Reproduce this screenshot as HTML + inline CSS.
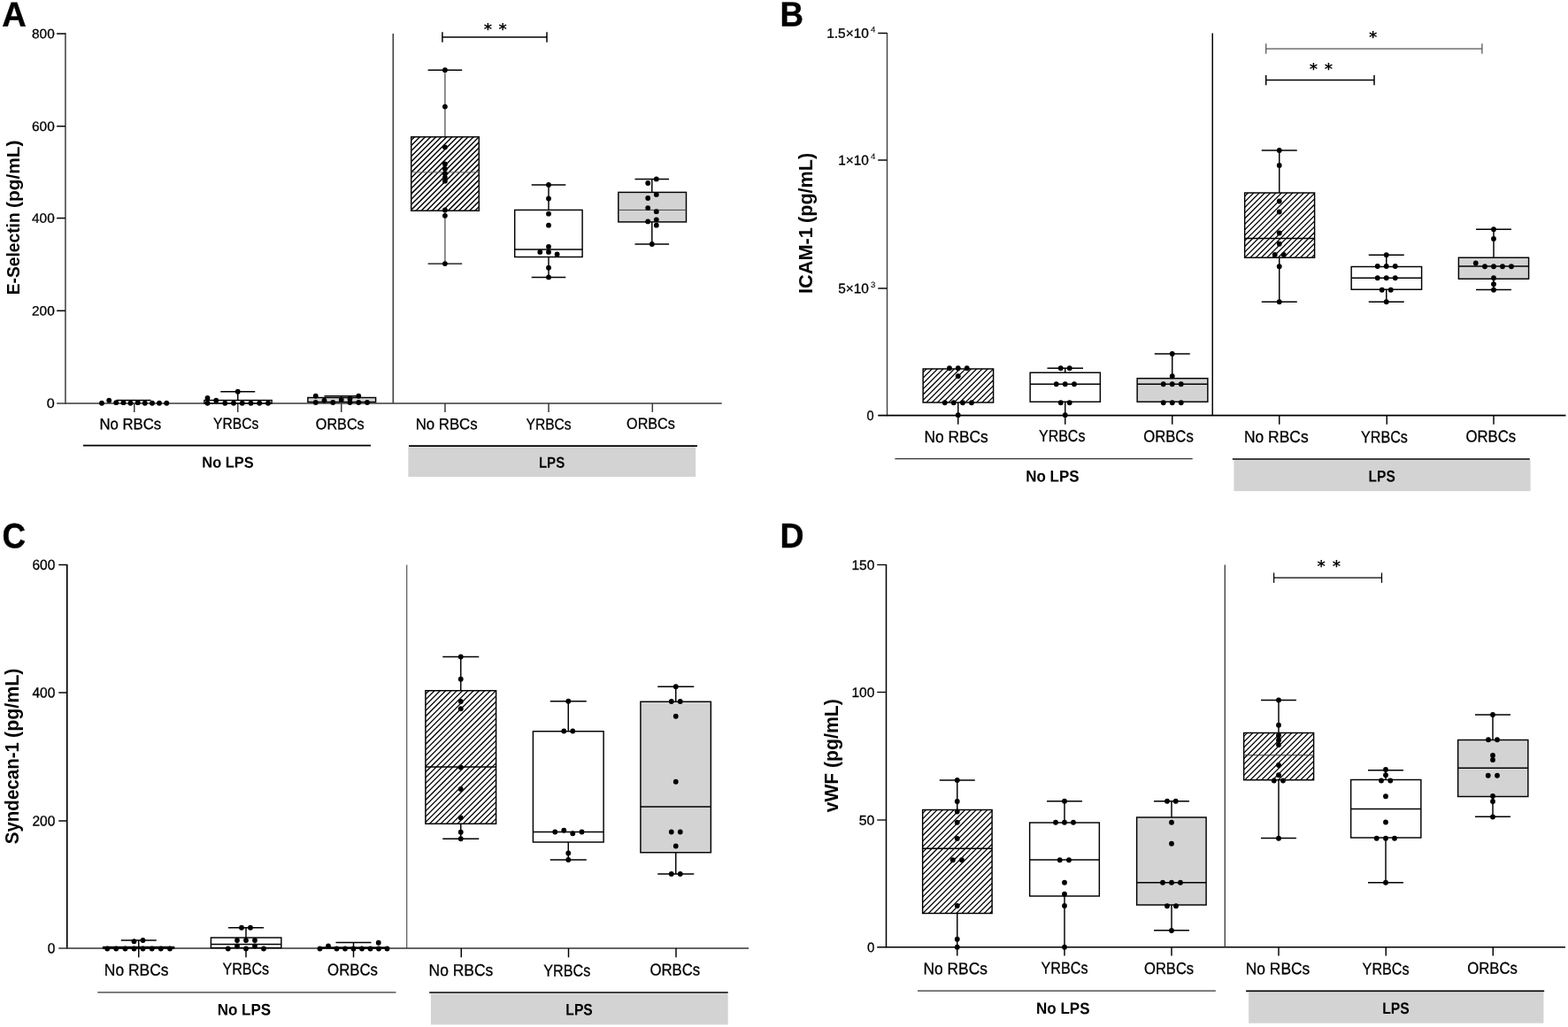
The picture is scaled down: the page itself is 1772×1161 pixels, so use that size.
<!DOCTYPE html>
<html lang="en">
<head>
<meta charset="utf-8">
<title>Endothelial activation markers: E-Selectin, ICAM-1, Syndecan-1, vWF</title>
<style>
html,body{margin:0;padding:0;background:#fff;}
body{width:1772px;height:1161px;overflow:hidden;}
svg{display:block;}
svg text{font-family:"Liberation Sans", sans-serif;fill:#000;}
svg text.r{stroke:#000;stroke-width:0.3px;}
</style>
</head>
<body>
<svg width="1772" height="1161" viewBox="0 0 1772 1161">
<rect width="1772" height="1161" fill="#fff"/>
<text x="2.20" y="29.80" font-size="39.4" font-weight="bold" textLength="27.50" lengthAdjust="spacingAndGlyphs" transform="rotate(0.04 2.20 29.80)" stroke="#000" stroke-width="0.4">A</text>
<text transform="translate(21.90 332.30) rotate(-90)" font-size="20.4" font-weight="bold"><tspan x="-1.00" y="0" textLength="93.00" lengthAdjust="spacingAndGlyphs">E-Selectin</tspan> <tspan x="97.40" y="0" textLength="76.40" lengthAdjust="spacingAndGlyphs">(pg/mL)</tspan></text>
<line x1="73.95" y1="37.30" x2="73.95" y2="456.70" stroke="#3a3a3a" stroke-width="1.5"/>
<line x1="64.10" y1="456.00" x2="815.70" y2="456.00" stroke="#3a3a3a" stroke-width="1.5"/>
<line x1="64.10" y1="38.10" x2="73.95" y2="38.10" stroke="#000" stroke-width="1.5"/>
<text x="36.00" y="43.30" font-size="15.0" class="r" textLength="25.70" lengthAdjust="spacingAndGlyphs" transform="rotate(0.04 36.00 43.30)">800</text>
<line x1="64.10" y1="142.70" x2="73.95" y2="142.70" stroke="#000" stroke-width="1.5"/>
<text x="36.00" y="147.90" font-size="15.0" class="r" textLength="25.70" lengthAdjust="spacingAndGlyphs" transform="rotate(0.04 36.00 147.90)">600</text>
<line x1="64.10" y1="246.60" x2="73.95" y2="246.60" stroke="#000" stroke-width="1.5"/>
<text x="36.00" y="251.80" font-size="15.0" class="r" textLength="25.70" lengthAdjust="spacingAndGlyphs" transform="rotate(0.04 36.00 251.80)">400</text>
<line x1="64.10" y1="351.30" x2="73.95" y2="351.30" stroke="#000" stroke-width="1.5"/>
<text x="36.00" y="356.50" font-size="15.0" class="r" textLength="25.70" lengthAdjust="spacingAndGlyphs" transform="rotate(0.04 36.00 356.50)">200</text>
<text x="52.70" y="461.10" font-size="15.0" class="r" textLength="9.00" lengthAdjust="spacingAndGlyphs" transform="rotate(0.04 52.70 461.10)">0</text>
<line x1="444.27" y1="38.00" x2="444.27" y2="456.00" stroke="#3a3a3a" stroke-width="1.5"/>
<line x1="151.75" y1="456.00" x2="151.75" y2="465.90" stroke="#3a3a3a" stroke-width="1.5"/>
<line x1="268.75" y1="456.00" x2="268.75" y2="465.90" stroke="#3a3a3a" stroke-width="1.5"/>
<line x1="385.75" y1="456.00" x2="385.75" y2="465.90" stroke="#3a3a3a" stroke-width="1.5"/>
<line x1="502.95" y1="456.00" x2="502.95" y2="465.90" stroke="#3a3a3a" stroke-width="1.5"/>
<line x1="620.00" y1="456.00" x2="620.00" y2="465.90" stroke="#3a3a3a" stroke-width="1.5"/>
<line x1="737.30" y1="456.00" x2="737.30" y2="465.90" stroke="#3a3a3a" stroke-width="1.5"/>
<text x="112.40" y="485.30" font-size="17.7" class="r" textLength="69.80" lengthAdjust="spacingAndGlyphs" transform="rotate(0.04 112.40 485.30)">No RBCs</text>
<text x="241.10" y="484.80" font-size="17.7" class="r" textLength="51.10" lengthAdjust="spacingAndGlyphs" transform="rotate(0.04 241.10 484.80)">YRBCs</text>
<text x="356.80" y="485.30" font-size="17.7" class="r" textLength="54.90" lengthAdjust="spacingAndGlyphs" transform="rotate(0.04 356.80 485.30)">ORBCs</text>
<text x="469.70" y="485.30" font-size="17.7" class="r" textLength="69.90" lengthAdjust="spacingAndGlyphs" transform="rotate(0.04 469.70 485.30)">No RBCs</text>
<text x="594.50" y="485.50" font-size="17.7" class="r" textLength="51.10" lengthAdjust="spacingAndGlyphs" transform="rotate(0.04 594.50 485.50)">YRBCs</text>
<text x="708.10" y="484.80" font-size="17.7" class="r" textLength="54.70" lengthAdjust="spacingAndGlyphs" transform="rotate(0.04 708.10 484.80)">ORBCs</text>
<line x1="94.00" y1="503.60" x2="419.00" y2="503.60" stroke="#000" stroke-width="1.6"/>
<text x="228.30" y="528.60" font-size="17.4" font-weight="bold" textLength="58.40" lengthAdjust="spacingAndGlyphs" transform="rotate(0.04 228.30 528.60)">No LPS</text>
<rect x="461.40" y="505.20" width="324.80" height="33.80" fill="#d3d3d3"/>
<line x1="462.00" y1="504.10" x2="788.00" y2="504.10" stroke="#000" stroke-width="1.6"/>
<text x="608.90" y="528.70" font-size="17.4" font-weight="bold" textLength="29.30" lengthAdjust="spacingAndGlyphs" transform="rotate(0.04 608.90 528.70)">LPS</text>
<line x1="131.50" y1="452.50" x2="170.60" y2="452.50" stroke="#000" stroke-width="1.6"/>
<line x1="268.75" y1="442.75" x2="268.75" y2="452.50" stroke="#000" stroke-width="1.45"/>
<line x1="249.25" y1="442.75" x2="288.25" y2="442.75" stroke="#000" stroke-width="1.45"/>
<rect x="230.90" y="452.50" width="76.20" height="3.40" fill="#fff"/>
<rect x="230.90" y="452.50" width="76.20" height="3.40" fill="none" stroke="#000" stroke-width="1.45"/>
<line x1="385.75" y1="447.75" x2="385.75" y2="449.50" stroke="#000" stroke-width="1.45"/>
<line x1="366.50" y1="447.75" x2="405.00" y2="447.75" stroke="#000" stroke-width="1.45"/>
<rect x="347.90" y="449.50" width="76.70" height="5.00" fill="#d3d3d3"/>
<rect x="347.90" y="449.50" width="76.70" height="5.00" fill="none" stroke="#000" stroke-width="1.45"/>
<circle cx="115.00" cy="455.75" r="2.9"/>
<circle cx="123.25" cy="452.75" r="2.9"/>
<circle cx="131.25" cy="455.20" r="2.9"/>
<circle cx="139.50" cy="455.20" r="2.9"/>
<circle cx="147.50" cy="455.75" r="2.9"/>
<circle cx="155.75" cy="455.20" r="2.9"/>
<circle cx="163.75" cy="455.75" r="2.9"/>
<circle cx="172.00" cy="455.75" r="2.9"/>
<circle cx="180.00" cy="455.75" r="2.9"/>
<circle cx="188.25" cy="455.75" r="2.9"/>
<circle cx="234.50" cy="455.75" r="2.9"/>
<circle cx="244.25" cy="452.75" r="2.9"/>
<circle cx="254.25" cy="455.75" r="2.9"/>
<circle cx="264.00" cy="455.75" r="2.9"/>
<circle cx="273.75" cy="455.75" r="2.9"/>
<circle cx="283.50" cy="455.75" r="2.9"/>
<circle cx="293.25" cy="455.75" r="2.9"/>
<circle cx="303.00" cy="455.75" r="2.9"/>
<circle cx="234.50" cy="450.00" r="2.9"/>
<circle cx="268.75" cy="442.75" r="2.9"/>
<circle cx="356.75" cy="455.00" r="2.9"/>
<circle cx="366.50" cy="452.75" r="2.9"/>
<circle cx="376.25" cy="455.00" r="2.9"/>
<circle cx="385.75" cy="452.00" r="2.9"/>
<circle cx="395.50" cy="455.00" r="2.9"/>
<circle cx="405.25" cy="455.00" r="2.9"/>
<circle cx="415.00" cy="455.00" r="2.9"/>
<circle cx="356.75" cy="447.75" r="2.9"/>
<circle cx="405.25" cy="447.75" r="2.9"/>
<circle cx="395.50" cy="450.75" r="2.9"/>
<line x1="502.90" y1="79.20" x2="502.90" y2="154.80" stroke="#666" stroke-width="1.45"/>
<line x1="483.60" y1="79.20" x2="522.20" y2="79.20" stroke="#000" stroke-width="1.45"/>
<line x1="502.90" y1="238.20" x2="502.90" y2="298.10" stroke="#666" stroke-width="1.45"/>
<line x1="483.60" y1="298.10" x2="522.20" y2="298.10" stroke="#000" stroke-width="1.45"/>
<rect x="464.70" y="154.80" width="76.60" height="83.40" fill="#fff"/>
<clipPath id="hc1"><rect x="464.70" y="154.80" width="76.60" height="83.40"/></clipPath>
<path d="M377.93 239.20L463.33 153.80M384.00 239.20L469.40 153.80M390.07 239.20L475.47 153.80M396.14 239.20L481.54 153.80M402.21 239.20L487.61 153.80M408.28 239.20L493.68 153.80M414.35 239.20L499.75 153.80M420.42 239.20L505.82 153.80M426.49 239.20L511.89 153.80M432.56 239.20L517.96 153.80M438.63 239.20L524.03 153.80M444.70 239.20L530.10 153.80M450.77 239.20L536.17 153.80M456.84 239.20L542.24 153.80M462.91 239.20L548.31 153.80M468.98 239.20L554.38 153.80M475.05 239.20L560.45 153.80M481.12 239.20L566.52 153.80M487.19 239.20L572.59 153.80M493.26 239.20L578.66 153.80M499.33 239.20L584.73 153.80M505.40 239.20L590.80 153.80M511.47 239.20L596.87 153.80M517.54 239.20L602.94 153.80M523.61 239.20L609.01 153.80M529.68 239.20L615.08 153.80M535.75 239.20L621.15 153.80M541.82 239.20L627.22 153.80" stroke="#000" stroke-width="1.45" fill="none" clip-path="url(#hc1)"/>
<rect x="464.70" y="154.80" width="76.60" height="83.40" fill="none" stroke="#000" stroke-width="1.45"/>
<line x1="464.70" y1="194.80" x2="541.30" y2="194.80" stroke="#666" stroke-width="1.0"/>
<line x1="620.00" y1="209.00" x2="620.00" y2="237.40" stroke="#000" stroke-width="1.45"/>
<line x1="600.70" y1="209.00" x2="639.30" y2="209.00" stroke="#000" stroke-width="1.45"/>
<line x1="620.00" y1="290.50" x2="620.00" y2="313.40" stroke="#000" stroke-width="1.45"/>
<line x1="600.70" y1="313.40" x2="639.30" y2="313.40" stroke="#000" stroke-width="1.45"/>
<rect x="581.70" y="237.40" width="76.40" height="53.10" fill="#fff"/>
<rect x="581.70" y="237.40" width="76.40" height="53.10" fill="none" stroke="#000" stroke-width="1.45"/>
<line x1="581.70" y1="281.90" x2="658.10" y2="281.90" stroke="#000" stroke-width="1.45"/>
<line x1="736.80" y1="202.40" x2="736.80" y2="217.40" stroke="#000" stroke-width="1.45"/>
<line x1="717.50" y1="202.40" x2="756.10" y2="202.40" stroke="#000" stroke-width="1.45"/>
<line x1="736.80" y1="250.90" x2="736.80" y2="276.00" stroke="#000" stroke-width="1.45"/>
<line x1="717.50" y1="276.00" x2="756.10" y2="276.00" stroke="#000" stroke-width="1.45"/>
<rect x="698.80" y="217.40" width="76.70" height="33.50" fill="#d3d3d3"/>
<rect x="698.80" y="217.40" width="76.70" height="33.50" fill="none" stroke="#000" stroke-width="1.45"/>
<line x1="698.80" y1="237.40" x2="775.50" y2="237.40" stroke="#444" stroke-width="1.0"/>
<circle cx="502.90" cy="79.20" r="2.9"/>
<circle cx="502.90" cy="120.60" r="2.9"/>
<circle cx="502.90" cy="166.30" r="2.9"/>
<circle cx="502.90" cy="185.40" r="2.9"/>
<circle cx="502.90" cy="191.00" r="2.9"/>
<circle cx="502.90" cy="196.30" r="2.9"/>
<circle cx="502.90" cy="200.60" r="2.9"/>
<circle cx="502.90" cy="204.70" r="2.9"/>
<circle cx="502.90" cy="237.40" r="2.9"/>
<circle cx="502.90" cy="243.80" r="2.9"/>
<circle cx="502.90" cy="298.10" r="2.9"/>
<circle cx="620.00" cy="209.00" r="2.9"/>
<circle cx="620.00" cy="224.50" r="2.9"/>
<circle cx="620.00" cy="241.70" r="2.9"/>
<circle cx="620.00" cy="254.70" r="2.9"/>
<circle cx="620.00" cy="278.80" r="2.9"/>
<circle cx="610.30" cy="284.90" r="2.9"/>
<circle cx="620.00" cy="284.90" r="2.9"/>
<circle cx="629.60" cy="287.50" r="2.9"/>
<circle cx="620.00" cy="302.70" r="2.9"/>
<circle cx="620.00" cy="313.40" r="2.9"/>
<circle cx="741.80" cy="202.40" r="2.9"/>
<circle cx="732.20" cy="207.00" r="2.9"/>
<circle cx="741.80" cy="219.90" r="2.9"/>
<circle cx="732.20" cy="224.00" r="2.9"/>
<circle cx="732.20" cy="235.10" r="2.9"/>
<circle cx="741.80" cy="239.20" r="2.9"/>
<circle cx="741.80" cy="248.30" r="2.9"/>
<circle cx="732.20" cy="250.40" r="2.9"/>
<circle cx="741.80" cy="254.70" r="2.9"/>
<circle cx="736.80" cy="276.00" r="2.9"/>
<line x1="499.90" y1="42.00" x2="618.00" y2="42.00" stroke="#000" stroke-width="1.5"/>
<line x1="499.90" y1="36.30" x2="499.90" y2="47.70" stroke="#000" stroke-width="1.5"/>
<line x1="618.00" y1="36.30" x2="618.00" y2="47.70" stroke="#000" stroke-width="1.5"/>
<text x="551.50" y="39.20" font-size="17.8" text-anchor="middle" style="font-family:'DejaVu Sans','Liberation Sans',sans-serif" font-weight="bold">*</text>
<text x="568.10" y="39.20" font-size="17.8" text-anchor="middle" style="font-family:'DejaVu Sans','Liberation Sans',sans-serif" font-weight="bold">*</text>
<text x="881.50" y="29.50" font-size="39.4" font-weight="bold" textLength="26.50" lengthAdjust="spacingAndGlyphs" transform="rotate(0.04 881.50 29.50)" stroke="#000" stroke-width="0.4">B</text>
<text transform="translate(917.80 331.00) rotate(-90)" font-size="21.4" font-weight="bold"><tspan x="-1.00" y="0" textLength="74.80" lengthAdjust="spacingAndGlyphs">ICAM-1</tspan> <tspan x="79.00" y="0" textLength="79.20" lengthAdjust="spacingAndGlyphs">(pg/mL)</tspan></text>
<line x1="1002.50" y1="36.90" x2="1002.50" y2="470.20" stroke="#2a2a2a" stroke-width="1.15"/>
<line x1="992.25" y1="469.60" x2="1769.50" y2="469.60" stroke="#000" stroke-width="1.7"/>
<line x1="992.25" y1="37.50" x2="1002.50" y2="37.50" stroke="#000" stroke-width="1.45"/>
<line x1="992.25" y1="181.00" x2="1002.50" y2="181.00" stroke="#000" stroke-width="1.45"/>
<line x1="992.25" y1="326.00" x2="1002.50" y2="326.00" stroke="#000" stroke-width="1.45"/>
<text class="r" font-size="15.3" transform="rotate(0.04 934.80 42.70)"><tspan x="934.20" y="42.70" textLength="47.70" lengthAdjust="spacingAndGlyphs">1.5×10</tspan><tspan x="983.90" y="36.50" font-size="9.2" stroke-width="0.1" textLength="5.40" lengthAdjust="spacingAndGlyphs">4</tspan></text>
<text class="r" font-size="15.3" transform="rotate(0.04 947.80 186.20)"><tspan x="947.20" y="186.20" textLength="34.70" lengthAdjust="spacingAndGlyphs">1×10</tspan><tspan x="983.90" y="180.00" font-size="9.2" stroke-width="0.1" textLength="5.40" lengthAdjust="spacingAndGlyphs">4</tspan></text>
<text class="r" font-size="15.3" transform="rotate(0.04 947.80 331.20)"><tspan x="947.20" y="331.20" textLength="34.70" lengthAdjust="spacingAndGlyphs">5×10</tspan><tspan x="983.90" y="325.00" font-size="9.2" stroke-width="0.1" textLength="5.40" lengthAdjust="spacingAndGlyphs">3</tspan></text>
<text x="979.45" y="474.90" font-size="15.3" class="r" textLength="8.10" lengthAdjust="spacingAndGlyphs" transform="rotate(0.04 979.45 474.90)">0</text>
<line x1="1370.25" y1="37.50" x2="1370.25" y2="469.60" stroke="#000" stroke-width="1.45"/>
<line x1="1082.75" y1="469.60" x2="1082.75" y2="479.80" stroke="#000" stroke-width="1.45"/>
<line x1="1203.75" y1="469.60" x2="1203.75" y2="479.80" stroke="#000" stroke-width="1.45"/>
<line x1="1324.75" y1="469.60" x2="1324.75" y2="479.80" stroke="#000" stroke-width="1.45"/>
<line x1="1445.75" y1="469.60" x2="1445.75" y2="479.80" stroke="#000" stroke-width="1.45"/>
<line x1="1567.25" y1="469.60" x2="1567.25" y2="479.80" stroke="#000" stroke-width="1.45"/>
<line x1="1688.00" y1="469.60" x2="1688.00" y2="479.80" stroke="#000" stroke-width="1.45"/>
<text x="1044.40" y="500.00" font-size="18.6" class="r" textLength="72.30" lengthAdjust="spacingAndGlyphs" transform="rotate(0.04 1044.40 500.00)">No RBCs</text>
<text x="1174.00" y="499.00" font-size="18.6" class="r" textLength="52.40" lengthAdjust="spacingAndGlyphs" transform="rotate(0.04 1174.00 499.00)">YRBCs</text>
<text x="1292.20" y="499.40" font-size="18.6" class="r" textLength="56.60" lengthAdjust="spacingAndGlyphs" transform="rotate(0.04 1292.20 499.40)">ORBCs</text>
<text x="1406.00" y="500.00" font-size="18.6" class="r" textLength="72.60" lengthAdjust="spacingAndGlyphs" transform="rotate(0.04 1406.00 500.00)">No RBCs</text>
<text x="1538.00" y="500.20" font-size="18.6" class="r" textLength="52.90" lengthAdjust="spacingAndGlyphs" transform="rotate(0.04 1538.00 500.20)">YRBCs</text>
<text x="1656.40" y="499.40" font-size="18.6" class="r" textLength="56.70" lengthAdjust="spacingAndGlyphs" transform="rotate(0.04 1656.40 499.40)">ORBCs</text>
<line x1="1011.40" y1="518.60" x2="1347.70" y2="518.60" stroke="#333" stroke-width="1.25"/>
<text x="1159.30" y="544.50" font-size="18.1" font-weight="bold" textLength="60.25" lengthAdjust="spacingAndGlyphs" transform="rotate(0.04 1159.30 544.50)">No LPS</text>
<rect x="1394.40" y="520.20" width="335.20" height="35.00" fill="#d3d3d3"/>
<line x1="1392.80" y1="519.00" x2="1728.80" y2="519.00" stroke="#000" stroke-width="1.6"/>
<text x="1546.60" y="544.50" font-size="18.1" font-weight="bold" textLength="30.20" lengthAdjust="spacingAndGlyphs" transform="rotate(0.04 1546.60 544.50)">LPS</text>
<line x1="1082.75" y1="455.00" x2="1082.75" y2="469.50" stroke="#000" stroke-width="1.45"/>
<rect x="1043.15" y="417.00" width="79.45" height="38.00" fill="#fff"/>
<clipPath id="hc2"><rect x="1043.15" y="417.00" width="79.45" height="38.00"/></clipPath>
<path d="M1001.75 456.00L1041.75 416.00M1008.05 456.00L1048.05 416.00M1014.35 456.00L1054.35 416.00M1020.65 456.00L1060.65 416.00M1026.95 456.00L1066.95 416.00M1033.25 456.00L1073.25 416.00M1039.55 456.00L1079.55 416.00M1045.85 456.00L1085.85 416.00M1052.15 456.00L1092.15 416.00M1058.45 456.00L1098.45 416.00M1064.75 456.00L1104.75 416.00M1071.05 456.00L1111.05 416.00M1077.35 456.00L1117.35 416.00M1083.65 456.00L1123.65 416.00M1089.95 456.00L1129.95 416.00M1096.25 456.00L1136.25 416.00M1102.55 456.00L1142.55 416.00M1108.85 456.00L1148.85 416.00M1115.15 456.00L1155.15 416.00M1121.45 456.00L1161.45 416.00M1127.75 456.00L1167.75 416.00" stroke="#000" stroke-width="1.25" fill="none" clip-path="url(#hc2)"/>
<rect x="1043.15" y="417.00" width="79.45" height="38.00" fill="none" stroke="#000" stroke-width="1.45"/>
<line x1="1203.75" y1="416.25" x2="1203.75" y2="421.25" stroke="#000" stroke-width="1.45"/>
<line x1="1183.50" y1="416.25" x2="1224.00" y2="416.25" stroke="#000" stroke-width="1.45"/>
<line x1="1203.75" y1="454.25" x2="1203.75" y2="469.50" stroke="#000" stroke-width="1.45"/>
<rect x="1164.15" y="421.25" width="79.20" height="33.00" fill="#fff"/>
<rect x="1164.15" y="421.25" width="79.20" height="33.00" fill="none" stroke="#000" stroke-width="1.45"/>
<line x1="1164.15" y1="434.25" x2="1243.35" y2="434.25" stroke="#000" stroke-width="1.45"/>
<line x1="1324.75" y1="400.00" x2="1324.75" y2="427.75" stroke="#000" stroke-width="1.45"/>
<line x1="1304.75" y1="400.00" x2="1344.75" y2="400.00" stroke="#000" stroke-width="1.45"/>
<rect x="1285.15" y="427.75" width="79.70" height="26.50" fill="#d3d3d3"/>
<rect x="1285.15" y="427.75" width="79.70" height="26.50" fill="none" stroke="#000" stroke-width="1.45"/>
<line x1="1285.15" y1="434.25" x2="1364.85" y2="434.25" stroke="#000" stroke-width="1.45"/>
<circle cx="1073.00" cy="416.25" r="2.9"/>
<circle cx="1082.75" cy="416.25" r="2.9"/>
<circle cx="1092.75" cy="416.25" r="2.9"/>
<circle cx="1082.75" cy="425.25" r="2.9"/>
<circle cx="1067.75" cy="455.25" r="2.9"/>
<circle cx="1077.75" cy="455.25" r="2.9"/>
<circle cx="1088.00" cy="455.25" r="2.9"/>
<circle cx="1098.00" cy="455.25" r="2.9"/>
<circle cx="1082.75" cy="469.25" r="2.9"/>
<circle cx="1198.75" cy="416.25" r="2.9"/>
<circle cx="1208.75" cy="416.25" r="2.9"/>
<circle cx="1193.75" cy="434.25" r="2.9"/>
<circle cx="1203.75" cy="434.25" r="2.9"/>
<circle cx="1214.00" cy="434.25" r="2.9"/>
<circle cx="1198.75" cy="455.25" r="2.9"/>
<circle cx="1208.75" cy="455.25" r="2.9"/>
<circle cx="1203.75" cy="469.25" r="2.9"/>
<circle cx="1324.75" cy="400.00" r="2.9"/>
<circle cx="1324.75" cy="425.25" r="2.9"/>
<circle cx="1314.75" cy="434.25" r="2.9"/>
<circle cx="1324.75" cy="434.25" r="2.9"/>
<circle cx="1334.75" cy="434.25" r="2.9"/>
<circle cx="1314.75" cy="455.25" r="2.9"/>
<circle cx="1324.75" cy="455.25" r="2.9"/>
<circle cx="1334.75" cy="455.25" r="2.9"/>
<line x1="1445.75" y1="170.00" x2="1445.75" y2="218.00" stroke="#000" stroke-width="1.45"/>
<line x1="1425.75" y1="170.00" x2="1465.75" y2="170.00" stroke="#000" stroke-width="1.45"/>
<line x1="1445.75" y1="291.25" x2="1445.75" y2="341.25" stroke="#000" stroke-width="1.45"/>
<line x1="1425.75" y1="341.25" x2="1465.75" y2="341.25" stroke="#000" stroke-width="1.45"/>
<rect x="1406.65" y="218.00" width="78.95" height="73.25" fill="#fff"/>
<clipPath id="hc3"><rect x="1406.65" y="218.00" width="78.95" height="73.25"/></clipPath>
<path d="M1330.00 292.25L1405.25 217.00M1336.30 292.25L1411.55 217.00M1342.60 292.25L1417.85 217.00M1348.90 292.25L1424.15 217.00M1355.20 292.25L1430.45 217.00M1361.50 292.25L1436.75 217.00M1367.80 292.25L1443.05 217.00M1374.10 292.25L1449.35 217.00M1380.40 292.25L1455.65 217.00M1386.70 292.25L1461.95 217.00M1393.00 292.25L1468.25 217.00M1399.30 292.25L1474.55 217.00M1405.60 292.25L1480.85 217.00M1411.90 292.25L1487.15 217.00M1418.20 292.25L1493.45 217.00M1424.50 292.25L1499.75 217.00M1430.80 292.25L1506.05 217.00M1437.10 292.25L1512.35 217.00M1443.40 292.25L1518.65 217.00M1449.70 292.25L1524.95 217.00M1456.00 292.25L1531.25 217.00M1462.30 292.25L1537.55 217.00M1468.60 292.25L1543.85 217.00M1474.90 292.25L1550.15 217.00M1481.20 292.25L1556.45 217.00M1487.50 292.25L1562.75 217.00" stroke="#000" stroke-width="1.25" fill="none" clip-path="url(#hc3)"/>
<rect x="1406.65" y="218.00" width="78.95" height="73.25" fill="none" stroke="#000" stroke-width="1.45"/>
<line x1="1406.65" y1="269.50" x2="1485.60" y2="269.50" stroke="#000" stroke-width="1.45"/>
<line x1="1566.75" y1="288.25" x2="1566.75" y2="301.50" stroke="#000" stroke-width="1.45"/>
<line x1="1546.75" y1="288.25" x2="1586.75" y2="288.25" stroke="#000" stroke-width="1.45"/>
<line x1="1566.75" y1="327.25" x2="1566.75" y2="341.25" stroke="#000" stroke-width="1.45"/>
<line x1="1546.75" y1="341.25" x2="1586.75" y2="341.25" stroke="#000" stroke-width="1.45"/>
<rect x="1527.15" y="301.50" width="79.45" height="25.75" fill="#fff"/>
<rect x="1527.15" y="301.50" width="79.45" height="25.75" fill="none" stroke="#000" stroke-width="1.45"/>
<line x1="1527.15" y1="314.25" x2="1606.60" y2="314.25" stroke="#000" stroke-width="1.45"/>
<line x1="1688.00" y1="259.25" x2="1688.00" y2="291.25" stroke="#000" stroke-width="1.45"/>
<line x1="1668.00" y1="259.25" x2="1708.00" y2="259.25" stroke="#000" stroke-width="1.45"/>
<line x1="1688.00" y1="315.25" x2="1688.00" y2="327.50" stroke="#000" stroke-width="1.45"/>
<line x1="1668.00" y1="327.50" x2="1708.00" y2="327.50" stroke="#000" stroke-width="1.45"/>
<rect x="1648.40" y="291.25" width="79.20" height="24.00" fill="#d3d3d3"/>
<rect x="1648.40" y="291.25" width="79.20" height="24.00" fill="none" stroke="#000" stroke-width="1.45"/>
<line x1="1648.40" y1="301.00" x2="1727.60" y2="301.00" stroke="#000" stroke-width="1.45"/>
<circle cx="1445.75" cy="170.00" r="2.9"/>
<circle cx="1445.75" cy="187.00" r="2.9"/>
<circle cx="1445.75" cy="227.50" r="2.9"/>
<circle cx="1445.75" cy="239.50" r="2.9"/>
<circle cx="1445.75" cy="263.50" r="2.9"/>
<circle cx="1445.75" cy="275.75" r="2.9"/>
<circle cx="1445.75" cy="301.25" r="2.9"/>
<circle cx="1445.75" cy="341.25" r="2.9"/>
<circle cx="1440.75" cy="288.00" r="2.9"/>
<circle cx="1450.75" cy="288.00" r="2.9"/>
<circle cx="1566.75" cy="288.25" r="2.9"/>
<circle cx="1556.75" cy="301.00" r="2.9"/>
<circle cx="1566.75" cy="301.00" r="2.9"/>
<circle cx="1576.75" cy="301.00" r="2.9"/>
<circle cx="1556.75" cy="314.25" r="2.9"/>
<circle cx="1566.75" cy="314.25" r="2.9"/>
<circle cx="1576.75" cy="314.25" r="2.9"/>
<circle cx="1561.75" cy="327.75" r="2.9"/>
<circle cx="1571.75" cy="327.75" r="2.9"/>
<circle cx="1566.75" cy="341.25" r="2.9"/>
<circle cx="1688.00" cy="259.25" r="2.9"/>
<circle cx="1688.00" cy="270.00" r="2.9"/>
<circle cx="1667.75" cy="297.50" r="2.9"/>
<circle cx="1678.00" cy="301.25" r="2.9"/>
<circle cx="1688.00" cy="301.25" r="2.9"/>
<circle cx="1698.00" cy="301.25" r="2.9"/>
<circle cx="1708.00" cy="301.25" r="2.9"/>
<circle cx="1688.00" cy="314.25" r="2.9"/>
<circle cx="1688.00" cy="321.25" r="2.9"/>
<circle cx="1688.00" cy="327.75" r="2.9"/>
<line x1="1430.70" y1="55.00" x2="1674.90" y2="55.00" stroke="#555" stroke-width="1.25"/>
<line x1="1430.70" y1="49.30" x2="1430.70" y2="60.70" stroke="#555" stroke-width="1.25"/>
<line x1="1674.90" y1="49.30" x2="1674.90" y2="60.70" stroke="#555" stroke-width="1.25"/>
<text x="1551.60" y="48.20" font-size="17.8" text-anchor="middle" style="font-family:'DejaVu Sans','Liberation Sans',sans-serif" font-weight="bold">*</text>
<line x1="1430.70" y1="90.60" x2="1553.00" y2="90.60" stroke="#000" stroke-width="1.5"/>
<line x1="1430.70" y1="84.90" x2="1430.70" y2="96.30" stroke="#000" stroke-width="1.5"/>
<line x1="1553.00" y1="84.90" x2="1553.00" y2="96.30" stroke="#000" stroke-width="1.5"/>
<text x="1484.30" y="83.80" font-size="17.8" text-anchor="middle" style="font-family:'DejaVu Sans','Liberation Sans',sans-serif" font-weight="bold">*</text>
<text x="1501.50" y="83.80" font-size="17.8" text-anchor="middle" style="font-family:'DejaVu Sans','Liberation Sans',sans-serif" font-weight="bold">*</text>
<text x="2.50" y="619.30" font-size="39.4" font-weight="bold" textLength="26.50" lengthAdjust="spacingAndGlyphs" transform="rotate(0.04 2.50 619.30)" stroke="#000" stroke-width="0.4">C</text>
<text transform="translate(21.40 953.30) rotate(-90)" font-size="21.3" font-weight="bold"><tspan x="-1.00" y="0" textLength="115.30" lengthAdjust="spacingAndGlyphs">Syndecan-1</tspan> <tspan x="119.40" y="0" textLength="78.20" lengthAdjust="spacingAndGlyphs">(pg/mL)</tspan></text>
<line x1="75.75" y1="637.90" x2="75.75" y2="1072.60" stroke="#000" stroke-width="1.7"/>
<line x1="66.25" y1="1072.00" x2="846.00" y2="1072.00" stroke="#333" stroke-width="1.4"/>
<line x1="66.25" y1="638.50" x2="75.75" y2="638.50" stroke="#000" stroke-width="1.45"/>
<text x="36.45" y="644.10" font-size="16.2" class="r" textLength="25.85" lengthAdjust="spacingAndGlyphs" transform="rotate(0.04 36.45 644.10)">600</text>
<line x1="66.25" y1="783.00" x2="75.75" y2="783.00" stroke="#000" stroke-width="1.45"/>
<text x="36.45" y="788.60" font-size="16.2" class="r" textLength="25.85" lengthAdjust="spacingAndGlyphs" transform="rotate(0.04 36.45 788.60)">400</text>
<line x1="66.25" y1="928.00" x2="75.75" y2="928.00" stroke="#000" stroke-width="1.45"/>
<text x="36.45" y="933.60" font-size="16.2" class="r" textLength="25.85" lengthAdjust="spacingAndGlyphs" transform="rotate(0.04 36.45 933.60)">200</text>
<text x="53.70" y="1077.60" font-size="16.2" class="r" textLength="8.60" lengthAdjust="spacingAndGlyphs" transform="rotate(0.04 53.70 1077.60)">0</text>
<line x1="459.75" y1="638.50" x2="459.75" y2="1072.00" stroke="#333" stroke-width="1.0"/>
<line x1="156.75" y1="1072.00" x2="156.75" y2="1082.30" stroke="#000" stroke-width="1.45"/>
<line x1="278.00" y1="1072.00" x2="278.00" y2="1082.30" stroke="#000" stroke-width="1.45"/>
<line x1="399.50" y1="1072.00" x2="399.50" y2="1082.30" stroke="#000" stroke-width="1.45"/>
<line x1="521.25" y1="1072.00" x2="521.25" y2="1082.30" stroke="#000" stroke-width="1.45"/>
<line x1="642.50" y1="1072.00" x2="642.50" y2="1082.30" stroke="#000" stroke-width="1.45"/>
<line x1="764.00" y1="1072.00" x2="764.00" y2="1082.30" stroke="#000" stroke-width="1.45"/>
<text x="117.80" y="1102.70" font-size="18.6" class="r" textLength="72.80" lengthAdjust="spacingAndGlyphs" transform="rotate(0.04 117.80 1102.70)">No RBCs</text>
<text x="251.45" y="1101.60" font-size="18.6" class="r" textLength="52.70" lengthAdjust="spacingAndGlyphs" transform="rotate(0.04 251.45 1101.60)">YRBCs</text>
<text x="370.10" y="1102.50" font-size="18.6" class="r" textLength="56.80" lengthAdjust="spacingAndGlyphs" transform="rotate(0.04 370.10 1102.50)">ORBCs</text>
<text x="484.60" y="1103.00" font-size="18.6" class="r" textLength="72.70" lengthAdjust="spacingAndGlyphs" transform="rotate(0.04 484.60 1103.00)">No RBCs</text>
<text x="614.30" y="1103.40" font-size="18.6" class="r" textLength="53.00" lengthAdjust="spacingAndGlyphs" transform="rotate(0.04 614.30 1103.40)">YRBCs</text>
<text x="734.40" y="1102.50" font-size="18.6" class="r" textLength="56.75" lengthAdjust="spacingAndGlyphs" transform="rotate(0.04 734.40 1102.50)">ORBCs</text>
<line x1="110.25" y1="1121.90" x2="447.50" y2="1121.90" stroke="#333" stroke-width="1.25"/>
<text x="245.70" y="1147.40" font-size="18.1" font-weight="bold" textLength="60.35" lengthAdjust="spacingAndGlyphs" transform="rotate(0.04 245.70 1147.40)">No LPS</text>
<rect x="486.90" y="1123.30" width="335.80" height="35.10" fill="#d3d3d3"/>
<line x1="485.20" y1="1122.05" x2="822.70" y2="1122.05" stroke="#000" stroke-width="1.6"/>
<text x="639.35" y="1147.60" font-size="18.1" font-weight="bold" textLength="30.45" lengthAdjust="spacingAndGlyphs" transform="rotate(0.04 639.35 1147.60)">LPS</text>
<line x1="156.75" y1="1063.00" x2="156.75" y2="1070.50" stroke="#000" stroke-width="1.45"/>
<line x1="136.75" y1="1063.00" x2="176.75" y2="1063.00" stroke="#000" stroke-width="1.45"/>
<rect x="116.65" y="1070.50" width="79.95" height="1.50" fill="#fff"/>
<rect x="116.65" y="1070.50" width="79.95" height="1.50" fill="none" stroke="#000" stroke-width="1.45"/>
<line x1="278.00" y1="1048.75" x2="278.00" y2="1060.00" stroke="#000" stroke-width="1.45"/>
<line x1="258.00" y1="1048.75" x2="298.00" y2="1048.75" stroke="#000" stroke-width="1.45"/>
<rect x="238.40" y="1060.00" width="79.45" height="11.50" fill="#fff"/>
<rect x="238.40" y="1060.00" width="79.45" height="11.50" fill="none" stroke="#000" stroke-width="1.45"/>
<line x1="238.40" y1="1067.50" x2="317.85" y2="1067.50" stroke="#000" stroke-width="1.45"/>
<line x1="399.50" y1="1065.50" x2="399.50" y2="1071.00" stroke="#000" stroke-width="1.45"/>
<line x1="379.50" y1="1065.50" x2="419.50" y2="1065.50" stroke="#000" stroke-width="1.45"/>
<rect x="359.90" y="1071.00" width="79.20" height="1.00" fill="#d3d3d3"/>
<rect x="359.90" y="1071.00" width="79.20" height="1.00" fill="none" stroke="#000" stroke-width="1.45"/>
<circle cx="121.25" cy="1072.50" r="2.9"/>
<circle cx="131.25" cy="1072.50" r="2.9"/>
<circle cx="141.50" cy="1072.50" r="2.9"/>
<circle cx="151.50" cy="1072.50" r="2.9"/>
<circle cx="161.50" cy="1072.50" r="2.9"/>
<circle cx="171.75" cy="1072.50" r="2.9"/>
<circle cx="181.75" cy="1072.50" r="2.9"/>
<circle cx="192.00" cy="1072.50" r="2.9"/>
<circle cx="151.50" cy="1064.25" r="2.9"/>
<circle cx="161.50" cy="1063.00" r="2.9"/>
<circle cx="273.00" cy="1048.75" r="2.9"/>
<circle cx="283.00" cy="1048.75" r="2.9"/>
<circle cx="268.00" cy="1063.00" r="2.9"/>
<circle cx="278.00" cy="1063.00" r="2.9"/>
<circle cx="288.00" cy="1063.00" r="2.9"/>
<circle cx="268.00" cy="1069.50" r="2.9"/>
<circle cx="288.00" cy="1069.50" r="2.9"/>
<circle cx="257.75" cy="1072.50" r="2.9"/>
<circle cx="278.00" cy="1072.50" r="2.9"/>
<circle cx="298.00" cy="1072.50" r="2.9"/>
<circle cx="361.50" cy="1072.50" r="2.9"/>
<circle cx="380.50" cy="1072.50" r="2.9"/>
<circle cx="390.00" cy="1072.50" r="2.9"/>
<circle cx="399.50" cy="1072.50" r="2.9"/>
<circle cx="409.00" cy="1072.50" r="2.9"/>
<circle cx="418.50" cy="1072.50" r="2.9"/>
<circle cx="428.00" cy="1072.50" r="2.9"/>
<circle cx="437.50" cy="1072.50" r="2.9"/>
<circle cx="371.00" cy="1069.50" r="2.9"/>
<circle cx="427.75" cy="1065.75" r="2.9"/>
<line x1="520.75" y1="742.50" x2="520.75" y2="780.75" stroke="#000" stroke-width="1.45"/>
<line x1="500.25" y1="742.50" x2="541.25" y2="742.50" stroke="#000" stroke-width="1.45"/>
<line x1="520.75" y1="931.25" x2="520.75" y2="948.25" stroke="#000" stroke-width="1.45"/>
<line x1="500.25" y1="948.25" x2="541.25" y2="948.25" stroke="#000" stroke-width="1.45"/>
<rect x="480.90" y="780.75" width="79.70" height="150.50" fill="#fff"/>
<clipPath id="hc4"><rect x="480.90" y="780.75" width="79.70" height="150.50"/></clipPath>
<path d="M327.00 932.25L479.50 779.75M333.30 932.25L485.80 779.75M339.60 932.25L492.10 779.75M345.90 932.25L498.40 779.75M352.20 932.25L504.70 779.75M358.50 932.25L511.00 779.75M364.80 932.25L517.30 779.75M371.10 932.25L523.60 779.75M377.40 932.25L529.90 779.75M383.70 932.25L536.20 779.75M390.00 932.25L542.50 779.75M396.30 932.25L548.80 779.75M402.60 932.25L555.10 779.75M408.90 932.25L561.40 779.75M415.20 932.25L567.70 779.75M421.50 932.25L574.00 779.75M427.80 932.25L580.30 779.75M434.10 932.25L586.60 779.75M440.40 932.25L592.90 779.75M446.70 932.25L599.20 779.75M453.00 932.25L605.50 779.75M459.30 932.25L611.80 779.75M465.60 932.25L618.10 779.75M471.90 932.25L624.40 779.75M478.20 932.25L630.70 779.75M484.50 932.25L637.00 779.75M490.80 932.25L643.30 779.75M497.10 932.25L649.60 779.75M503.40 932.25L655.90 779.75M509.70 932.25L662.20 779.75M516.00 932.25L668.50 779.75M522.30 932.25L674.80 779.75M528.60 932.25L681.10 779.75M534.90 932.25L687.40 779.75M541.20 932.25L693.70 779.75M547.50 932.25L700.00 779.75M553.80 932.25L706.30 779.75M560.10 932.25L712.60 779.75" stroke="#000" stroke-width="1.25" fill="none" clip-path="url(#hc4)"/>
<rect x="480.90" y="780.75" width="79.70" height="150.50" fill="none" stroke="#000" stroke-width="1.45"/>
<line x1="480.90" y1="867.00" x2="560.60" y2="867.00" stroke="#000" stroke-width="1.45"/>
<line x1="642.25" y1="792.75" x2="642.25" y2="826.75" stroke="#000" stroke-width="1.45"/>
<line x1="621.75" y1="792.75" x2="662.75" y2="792.75" stroke="#000" stroke-width="1.45"/>
<line x1="642.25" y1="952.00" x2="642.25" y2="972.00" stroke="#000" stroke-width="1.45"/>
<line x1="621.75" y1="972.00" x2="662.75" y2="972.00" stroke="#000" stroke-width="1.45"/>
<rect x="602.40" y="826.75" width="79.70" height="125.25" fill="#fff"/>
<rect x="602.40" y="826.75" width="79.70" height="125.25" fill="none" stroke="#000" stroke-width="1.45"/>
<line x1="602.40" y1="940.50" x2="682.10" y2="940.50" stroke="#000" stroke-width="1.45"/>
<line x1="763.75" y1="776.25" x2="763.75" y2="793.25" stroke="#000" stroke-width="1.45"/>
<line x1="743.25" y1="776.25" x2="784.25" y2="776.25" stroke="#000" stroke-width="1.45"/>
<line x1="763.75" y1="963.75" x2="763.75" y2="988.00" stroke="#000" stroke-width="1.45"/>
<line x1="743.25" y1="988.00" x2="784.25" y2="988.00" stroke="#000" stroke-width="1.45"/>
<rect x="723.90" y="793.25" width="79.45" height="170.50" fill="#d3d3d3"/>
<rect x="723.90" y="793.25" width="79.45" height="170.50" fill="none" stroke="#000" stroke-width="1.45"/>
<line x1="723.90" y1="912.00" x2="803.35" y2="912.00" stroke="#000" stroke-width="1.45"/>
<circle cx="520.75" cy="742.50" r="2.9"/>
<circle cx="520.75" cy="767.75" r="2.9"/>
<circle cx="520.75" cy="793.00" r="2.9"/>
<circle cx="520.75" cy="801.25" r="2.9"/>
<circle cx="520.75" cy="867.50" r="2.9"/>
<circle cx="520.75" cy="892.00" r="2.9"/>
<circle cx="520.75" cy="924.50" r="2.9"/>
<circle cx="520.75" cy="940.75" r="2.9"/>
<circle cx="520.75" cy="948.25" r="2.9"/>
<circle cx="642.25" cy="792.75" r="2.9"/>
<circle cx="637.25" cy="826.50" r="2.9"/>
<circle cx="647.25" cy="826.50" r="2.9"/>
<circle cx="627.25" cy="940.50" r="2.9"/>
<circle cx="637.25" cy="938.75" r="2.9"/>
<circle cx="647.25" cy="942.25" r="2.9"/>
<circle cx="657.50" cy="940.50" r="2.9"/>
<circle cx="642.25" cy="964.50" r="2.9"/>
<circle cx="642.25" cy="972.00" r="2.9"/>
<circle cx="763.75" cy="776.25" r="2.9"/>
<circle cx="758.75" cy="793.00" r="2.9"/>
<circle cx="768.75" cy="793.00" r="2.9"/>
<circle cx="763.75" cy="809.75" r="2.9"/>
<circle cx="763.75" cy="883.75" r="2.9"/>
<circle cx="758.75" cy="940.50" r="2.9"/>
<circle cx="768.75" cy="940.50" r="2.9"/>
<circle cx="763.75" cy="956.50" r="2.9"/>
<circle cx="758.75" cy="988.00" r="2.9"/>
<circle cx="768.75" cy="988.00" r="2.9"/>
<text x="881.50" y="618.90" font-size="39.4" font-weight="bold" textLength="27.00" lengthAdjust="spacingAndGlyphs" transform="rotate(0.04 881.50 618.90)" stroke="#000" stroke-width="0.4">D</text>
<text transform="translate(947.30 917.30) rotate(-90)" font-size="21.4" font-weight="bold"><tspan x="-1.00" y="0" textLength="44.50" lengthAdjust="spacingAndGlyphs">vWF</tspan> <tspan x="49.20" y="0" textLength="78.00" lengthAdjust="spacingAndGlyphs">(pg/mL)</tspan></text>
<line x1="1001.50" y1="637.90" x2="1001.50" y2="1071.35" stroke="#000" stroke-width="1.5"/>
<line x1="991.20" y1="1070.75" x2="1769.00" y2="1070.75" stroke="#000" stroke-width="1.7"/>
<line x1="991.20" y1="638.50" x2="1001.50" y2="638.50" stroke="#000" stroke-width="1.3"/>
<text x="962.45" y="644.00" font-size="15.3" class="r" textLength="25.85" lengthAdjust="spacingAndGlyphs" transform="rotate(0.04 962.45 644.00)">150</text>
<line x1="991.20" y1="782.50" x2="1001.50" y2="782.50" stroke="#000" stroke-width="1.3"/>
<text x="962.45" y="788.00" font-size="15.3" class="r" textLength="25.85" lengthAdjust="spacingAndGlyphs" transform="rotate(0.04 962.45 788.00)">100</text>
<line x1="991.20" y1="927.00" x2="1001.50" y2="927.00" stroke="#000" stroke-width="1.3"/>
<text x="970.70" y="932.50" font-size="15.3" class="r" textLength="17.60" lengthAdjust="spacingAndGlyphs" transform="rotate(0.04 970.70 932.50)">50</text>
<text x="979.95" y="1076.25" font-size="15.3" class="r" textLength="8.35" lengthAdjust="spacingAndGlyphs" transform="rotate(0.04 979.95 1076.25)">0</text>
<line x1="1384.25" y1="638.50" x2="1384.25" y2="1070.75" stroke="#222" stroke-width="1.2"/>
<line x1="1081.75" y1="1070.75" x2="1081.75" y2="1080.55" stroke="#000" stroke-width="1.45"/>
<line x1="1203.00" y1="1070.75" x2="1203.00" y2="1080.55" stroke="#000" stroke-width="1.45"/>
<line x1="1324.00" y1="1070.75" x2="1324.00" y2="1080.55" stroke="#000" stroke-width="1.45"/>
<line x1="1445.00" y1="1070.75" x2="1445.00" y2="1080.55" stroke="#000" stroke-width="1.45"/>
<line x1="1566.25" y1="1070.75" x2="1566.25" y2="1080.55" stroke="#000" stroke-width="1.45"/>
<line x1="1687.25" y1="1070.75" x2="1687.25" y2="1080.55" stroke="#000" stroke-width="1.45"/>
<text x="1043.60" y="1101.30" font-size="18.6" class="r" textLength="72.30" lengthAdjust="spacingAndGlyphs" transform="rotate(0.04 1043.60 1101.30)">No RBCs</text>
<text x="1176.60" y="1100.40" font-size="18.6" class="r" textLength="52.95" lengthAdjust="spacingAndGlyphs" transform="rotate(0.04 1176.60 1100.40)">YRBCs</text>
<text x="1293.00" y="1100.90" font-size="18.6" class="r" textLength="56.15" lengthAdjust="spacingAndGlyphs" transform="rotate(0.04 1293.00 1100.90)">ORBCs</text>
<text x="1407.80" y="1101.30" font-size="18.6" class="r" textLength="72.50" lengthAdjust="spacingAndGlyphs" transform="rotate(0.04 1407.80 1101.30)">No RBCs</text>
<text x="1539.60" y="1101.60" font-size="18.6" class="r" textLength="53.00" lengthAdjust="spacingAndGlyphs" transform="rotate(0.04 1539.60 1101.60)">YRBCs</text>
<text x="1658.25" y="1100.70" font-size="18.6" class="r" textLength="56.60" lengthAdjust="spacingAndGlyphs" transform="rotate(0.04 1658.25 1100.70)">ORBCs</text>
<line x1="1037.00" y1="1120.05" x2="1373.85" y2="1120.05" stroke="#333" stroke-width="1.25"/>
<text x="1171.05" y="1146.10" font-size="18.1" font-weight="bold" textLength="60.50" lengthAdjust="spacingAndGlyphs" transform="rotate(0.04 1171.05 1146.10)">No LPS</text>
<rect x="1411.10" y="1121.90" width="333.30" height="34.80" fill="#d3d3d3"/>
<line x1="1408.10" y1="1120.40" x2="1745.15" y2="1120.40" stroke="#000" stroke-width="1.6"/>
<text x="1562.20" y="1146.10" font-size="18.1" font-weight="bold" textLength="30.50" lengthAdjust="spacingAndGlyphs" transform="rotate(0.04 1562.20 1146.10)">LPS</text>
<line x1="1081.75" y1="882.00" x2="1081.75" y2="915.50" stroke="#000" stroke-width="1.45"/>
<line x1="1061.75" y1="882.00" x2="1101.75" y2="882.00" stroke="#000" stroke-width="1.45"/>
<line x1="1081.75" y1="1032.50" x2="1081.75" y2="1070.75" stroke="#000" stroke-width="1.45"/>
<rect x="1042.65" y="915.50" width="78.45" height="117.00" fill="#fff"/>
<clipPath id="hc5"><rect x="1042.65" y="915.50" width="78.45" height="117.00"/></clipPath>
<path d="M922.25 1033.50L1041.25 914.50M928.55 1033.50L1047.55 914.50M934.85 1033.50L1053.85 914.50M941.15 1033.50L1060.15 914.50M947.45 1033.50L1066.45 914.50M953.75 1033.50L1072.75 914.50M960.05 1033.50L1079.05 914.50M966.35 1033.50L1085.35 914.50M972.65 1033.50L1091.65 914.50M978.95 1033.50L1097.95 914.50M985.25 1033.50L1104.25 914.50M991.55 1033.50L1110.55 914.50M997.85 1033.50L1116.85 914.50M1004.15 1033.50L1123.15 914.50M1010.45 1033.50L1129.45 914.50M1016.75 1033.50L1135.75 914.50M1023.05 1033.50L1142.05 914.50M1029.35 1033.50L1148.35 914.50M1035.65 1033.50L1154.65 914.50M1041.95 1033.50L1160.95 914.50M1048.25 1033.50L1167.25 914.50M1054.55 1033.50L1173.55 914.50M1060.85 1033.50L1179.85 914.50M1067.15 1033.50L1186.15 914.50M1073.45 1033.50L1192.45 914.50M1079.75 1033.50L1198.75 914.50M1086.05 1033.50L1205.05 914.50M1092.35 1033.50L1211.35 914.50M1098.65 1033.50L1217.65 914.50M1104.95 1033.50L1223.95 914.50M1111.25 1033.50L1230.25 914.50M1117.55 1033.50L1236.55 914.50M1123.85 1033.50L1242.85 914.50" stroke="#000" stroke-width="1.25" fill="none" clip-path="url(#hc5)"/>
<rect x="1042.65" y="915.50" width="78.45" height="117.00" fill="none" stroke="#000" stroke-width="1.45"/>
<line x1="1042.65" y1="959.25" x2="1121.10" y2="959.25" stroke="#000" stroke-width="1.45"/>
<line x1="1203.00" y1="905.75" x2="1203.00" y2="930.00" stroke="#000" stroke-width="1.45"/>
<line x1="1183.00" y1="905.75" x2="1223.00" y2="905.75" stroke="#000" stroke-width="1.45"/>
<line x1="1203.00" y1="1013.00" x2="1203.00" y2="1070.75" stroke="#000" stroke-width="1.45"/>
<rect x="1163.65" y="930.00" width="78.70" height="83.00" fill="#fff"/>
<rect x="1163.65" y="930.00" width="78.70" height="83.00" fill="none" stroke="#000" stroke-width="1.45"/>
<line x1="1163.65" y1="972.00" x2="1242.35" y2="972.00" stroke="#000" stroke-width="1.45"/>
<line x1="1324.00" y1="905.75" x2="1324.00" y2="924.00" stroke="#000" stroke-width="1.45"/>
<line x1="1304.00" y1="905.75" x2="1344.00" y2="905.75" stroke="#000" stroke-width="1.45"/>
<line x1="1324.00" y1="1023.00" x2="1324.00" y2="1051.75" stroke="#000" stroke-width="1.45"/>
<line x1="1304.00" y1="1051.75" x2="1344.00" y2="1051.75" stroke="#000" stroke-width="1.45"/>
<rect x="1284.65" y="924.00" width="78.45" height="99.00" fill="#d3d3d3"/>
<rect x="1284.65" y="924.00" width="78.45" height="99.00" fill="none" stroke="#000" stroke-width="1.45"/>
<line x1="1284.65" y1="997.75" x2="1363.10" y2="997.75" stroke="#000" stroke-width="1.45"/>
<circle cx="1081.75" cy="882.00" r="2.9"/>
<circle cx="1081.75" cy="906.00" r="2.9"/>
<circle cx="1081.75" cy="917.50" r="2.9"/>
<circle cx="1081.75" cy="929.75" r="2.9"/>
<circle cx="1081.75" cy="948.00" r="2.9"/>
<circle cx="1081.75" cy="1024.00" r="2.9"/>
<circle cx="1081.75" cy="1061.75" r="2.9"/>
<circle cx="1081.75" cy="1070.75" r="2.9"/>
<circle cx="1076.75" cy="972.25" r="2.9"/>
<circle cx="1087.00" cy="972.25" r="2.9"/>
<circle cx="1203.00" cy="905.75" r="2.9"/>
<circle cx="1193.00" cy="929.75" r="2.9"/>
<circle cx="1203.00" cy="929.75" r="2.9"/>
<circle cx="1213.00" cy="929.75" r="2.9"/>
<circle cx="1197.75" cy="972.25" r="2.9"/>
<circle cx="1208.00" cy="972.25" r="2.9"/>
<circle cx="1203.00" cy="997.75" r="2.9"/>
<circle cx="1203.00" cy="1010.75" r="2.9"/>
<circle cx="1203.00" cy="1024.00" r="2.9"/>
<circle cx="1203.00" cy="1070.75" r="2.9"/>
<circle cx="1319.00" cy="905.75" r="2.9"/>
<circle cx="1328.75" cy="905.75" r="2.9"/>
<circle cx="1324.00" cy="929.75" r="2.9"/>
<circle cx="1324.00" cy="953.75" r="2.9"/>
<circle cx="1314.00" cy="997.75" r="2.9"/>
<circle cx="1324.00" cy="997.75" r="2.9"/>
<circle cx="1334.00" cy="997.75" r="2.9"/>
<circle cx="1319.00" cy="1024.25" r="2.9"/>
<circle cx="1329.00" cy="1024.25" r="2.9"/>
<circle cx="1324.00" cy="1052.00" r="2.9"/>
<line x1="1445.00" y1="791.50" x2="1445.00" y2="828.50" stroke="#000" stroke-width="1.45"/>
<line x1="1425.00" y1="791.50" x2="1465.00" y2="791.50" stroke="#000" stroke-width="1.45"/>
<line x1="1445.00" y1="881.75" x2="1445.00" y2="947.50" stroke="#000" stroke-width="1.45"/>
<line x1="1425.00" y1="947.50" x2="1465.00" y2="947.50" stroke="#000" stroke-width="1.45"/>
<rect x="1405.65" y="828.50" width="78.95" height="53.25" fill="#fff"/>
<clipPath id="hc6"><rect x="1405.65" y="828.50" width="78.95" height="53.25"/></clipPath>
<path d="M1349.00 882.75L1404.25 827.50M1355.30 882.75L1410.55 827.50M1361.60 882.75L1416.85 827.50M1367.90 882.75L1423.15 827.50M1374.20 882.75L1429.45 827.50M1380.50 882.75L1435.75 827.50M1386.80 882.75L1442.05 827.50M1393.10 882.75L1448.35 827.50M1399.40 882.75L1454.65 827.50M1405.70 882.75L1460.95 827.50M1412.00 882.75L1467.25 827.50M1418.30 882.75L1473.55 827.50M1424.60 882.75L1479.85 827.50M1430.90 882.75L1486.15 827.50M1437.20 882.75L1492.45 827.50M1443.50 882.75L1498.75 827.50M1449.80 882.75L1505.05 827.50M1456.10 882.75L1511.35 827.50M1462.40 882.75L1517.65 827.50M1468.70 882.75L1523.95 827.50M1475.00 882.75L1530.25 827.50M1481.30 882.75L1536.55 827.50M1487.60 882.75L1542.85 827.50" stroke="#000" stroke-width="1.25" fill="none" clip-path="url(#hc6)"/>
<rect x="1405.65" y="828.50" width="78.95" height="53.25" fill="none" stroke="#000" stroke-width="1.45"/>
<line x1="1405.65" y1="853.75" x2="1484.60" y2="853.75" stroke="#333" stroke-width="1.0"/>
<line x1="1566.00" y1="870.75" x2="1566.00" y2="881.50" stroke="#000" stroke-width="1.45"/>
<line x1="1546.00" y1="870.75" x2="1586.00" y2="870.75" stroke="#000" stroke-width="1.45"/>
<line x1="1566.00" y1="947.00" x2="1566.00" y2="997.75" stroke="#000" stroke-width="1.45"/>
<line x1="1546.00" y1="997.75" x2="1586.00" y2="997.75" stroke="#000" stroke-width="1.45"/>
<rect x="1526.65" y="881.50" width="79.20" height="65.50" fill="#fff"/>
<rect x="1526.65" y="881.50" width="79.20" height="65.50" fill="none" stroke="#000" stroke-width="1.45"/>
<line x1="1526.65" y1="914.50" x2="1605.85" y2="914.50" stroke="#000" stroke-width="1.45"/>
<line x1="1687.00" y1="808.00" x2="1687.00" y2="836.50" stroke="#000" stroke-width="1.45"/>
<line x1="1667.00" y1="808.00" x2="1707.00" y2="808.00" stroke="#000" stroke-width="1.45"/>
<line x1="1687.00" y1="900.50" x2="1687.00" y2="923.25" stroke="#000" stroke-width="1.45"/>
<line x1="1667.00" y1="923.25" x2="1707.00" y2="923.25" stroke="#000" stroke-width="1.45"/>
<rect x="1647.65" y="836.50" width="79.20" height="64.00" fill="#d3d3d3"/>
<rect x="1647.65" y="836.50" width="79.20" height="64.00" fill="none" stroke="#000" stroke-width="1.45"/>
<line x1="1647.65" y1="868.25" x2="1726.85" y2="868.25" stroke="#000" stroke-width="1.45"/>
<circle cx="1445.00" cy="791.50" r="2.9"/>
<circle cx="1445.00" cy="819.75" r="2.9"/>
<circle cx="1445.00" cy="831.25" r="2.9"/>
<circle cx="1445.00" cy="836.75" r="2.9"/>
<circle cx="1445.00" cy="842.00" r="2.9"/>
<circle cx="1445.00" cy="865.00" r="2.9"/>
<circle cx="1445.00" cy="876.25" r="2.9"/>
<circle cx="1445.00" cy="947.75" r="2.9"/>
<circle cx="1439.75" cy="882.50" r="2.9"/>
<circle cx="1450.00" cy="882.50" r="2.9"/>
<circle cx="1566.00" cy="870.00" r="2.9"/>
<circle cx="1566.00" cy="876.25" r="2.9"/>
<circle cx="1561.00" cy="882.50" r="2.9"/>
<circle cx="1571.25" cy="882.50" r="2.9"/>
<circle cx="1566.00" cy="900.25" r="2.9"/>
<circle cx="1566.00" cy="929.50" r="2.9"/>
<circle cx="1555.75" cy="947.75" r="2.9"/>
<circle cx="1566.00" cy="947.75" r="2.9"/>
<circle cx="1576.00" cy="947.75" r="2.9"/>
<circle cx="1566.00" cy="997.75" r="2.9"/>
<circle cx="1687.00" cy="808.00" r="2.9"/>
<circle cx="1682.00" cy="836.25" r="2.9"/>
<circle cx="1692.00" cy="836.25" r="2.9"/>
<circle cx="1687.00" cy="854.00" r="2.9"/>
<circle cx="1687.00" cy="859.00" r="2.9"/>
<circle cx="1681.75" cy="876.75" r="2.9"/>
<circle cx="1692.00" cy="876.75" r="2.9"/>
<circle cx="1687.00" cy="900.00" r="2.9"/>
<circle cx="1687.00" cy="906.00" r="2.9"/>
<circle cx="1687.00" cy="923.50" r="2.9"/>
<line x1="1439.60" y1="653.20" x2="1561.50" y2="653.20" stroke="#000" stroke-width="1.25"/>
<line x1="1439.60" y1="647.50" x2="1439.60" y2="658.90" stroke="#000" stroke-width="1.25"/>
<line x1="1561.50" y1="647.50" x2="1561.50" y2="658.90" stroke="#000" stroke-width="1.25"/>
<text x="1493.05" y="646.00" font-size="17.8" text-anchor="middle" style="font-family:'DejaVu Sans','Liberation Sans',sans-serif" font-weight="bold">*</text>
<text x="1510.35" y="646.00" font-size="17.8" text-anchor="middle" style="font-family:'DejaVu Sans','Liberation Sans',sans-serif" font-weight="bold">*</text>
</svg>
</body>
</html>
